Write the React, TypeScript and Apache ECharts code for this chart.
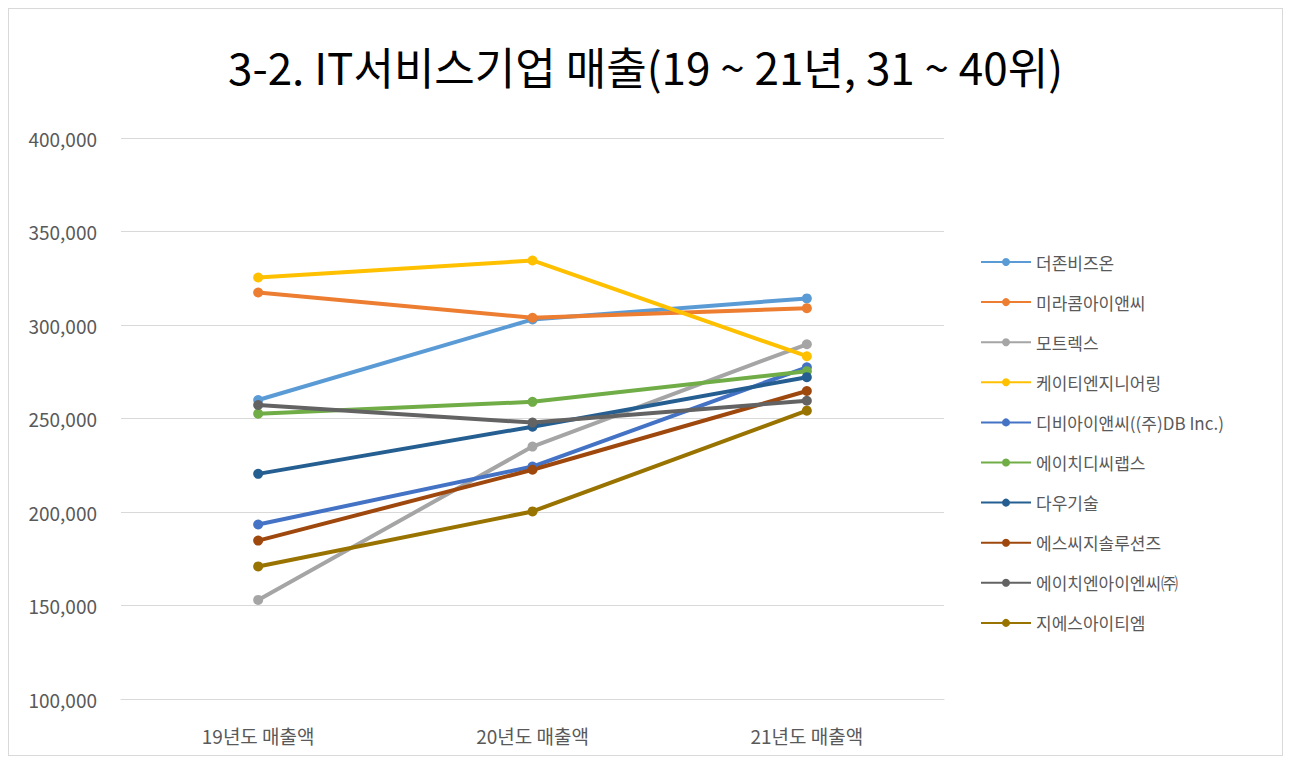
import React, { useEffect, useRef } from "react";
import * as echarts from "echarts";

const categories = ["19년도 매출액", "20년도 매출액", "21년도 매출액"];
const companies = [
  "더존비즈온",
  "미라콤아이앤씨",
  "모트렉스",
  "케이티엔지니어링",
  "디비아이앤씨((주)DB Inc.)",
  "에이치디씨랩스",
  "다우기술",
  "에스씨지솔루션즈",
  "에이치엔아이엔씨㈜",
  "지에스아이티엠",
];
const colors = ["#5B9BD5", "#ED7D31", "#A5A5A5", "#FFC000", "#4472C4", "#70AD47", "#255E91", "#9E480E", "#636363", "#997300"];

const douzone = [259900, 303000, 314200];
const miracom = [317400, 303900, 309000];
const motrex = [153000, 235000, 289700];
const ktEng = [325400, 334500, 283300];
const dbInc = [193300, 224300, 277400];
const hdcLabs = [252600, 258900, 275300];
const daou = [220400, 245600, 272100];
const scg = [184700, 222600, 264700];
const hnInc = [257200, 247800, 259500];
const gsitm = [170900, 200300, 254200];
const seriesValues = [douzone, miracom, motrex, ktEng, dbInc, hdcLabs, daou, scg, hnInc, gsitm];

const yMin = 100000;
const yMax = 400000;
const yStep = 50000;

export default function App() {
  const ref = useRef<HTMLDivElement>(null);
  useEffect(() => {
    if (!ref.current) return;
    const chart = echarts.init(ref.current, null, { renderer: "svg" });
    const font = "'Noto Sans CJK KR', 'Noto Sans', sans-serif";
    chart.setOption({
      animation: false,
      color: colors,
      title: {
        text: "3-2. IT서비스기업 매출(19 ~ 21년, 31 ~ 40위)",
        left: "center",
        top: 30,
        textStyle: { fontFamily: font, fontSize: 44, fontWeight: "normal", color: "#000" },
      },
      legend: {
        orient: "vertical",
        left: 966,
        top: 239,
        itemWidth: 50,
        itemHeight: 10,
        itemGap: 22.1,
        textStyle: { fontFamily: font, fontSize: 17, color: "#595959", lineHeight: 18 },
        data: companies,
      },
      grid: { left: 112, right: 338, top: 129, bottom: 56 },
      xAxis: {
        type: "category",
        data: categories,
        boundaryGap: true,
        axisLine: { show: true, lineStyle: { color: "#d9d9d9" } },
        axisTick: { show: false },
        axisLabel: { fontFamily: font, fontSize: 19, color: "#595959", margin: 27 },
      },
      yAxis: {
        type: "value",
        min: yMin,
        max: yMax,
        interval: yStep,
        axisLine: { show: false },
        axisTick: { show: false },
        splitLine: { lineStyle: { color: "#d9d9d9" } },
        axisLabel: {
          fontFamily: font,
          fontSize: 19,
          color: "#595959",
          margin: 24,
          formatter: (v: number) => v.toLocaleString("en-US"),
        },
      },
      series: companies.map((name, i) => ({
        name,
        type: "line",
        data: seriesValues[i],
        symbol: "circle",
        symbolSize: 10,
        lineStyle: { width: 4, color: colors[i] },
        itemStyle: { color: colors[i] },
      })),
    });
    return () => chart.dispose();
  }, []);
  return (
    <div
      ref={ref}
      style={{ width: 1275, height: 748, border: "1px solid #d9d9d9", boxSizing: "border-box", background: "#fff" }}
    />
  );
}
